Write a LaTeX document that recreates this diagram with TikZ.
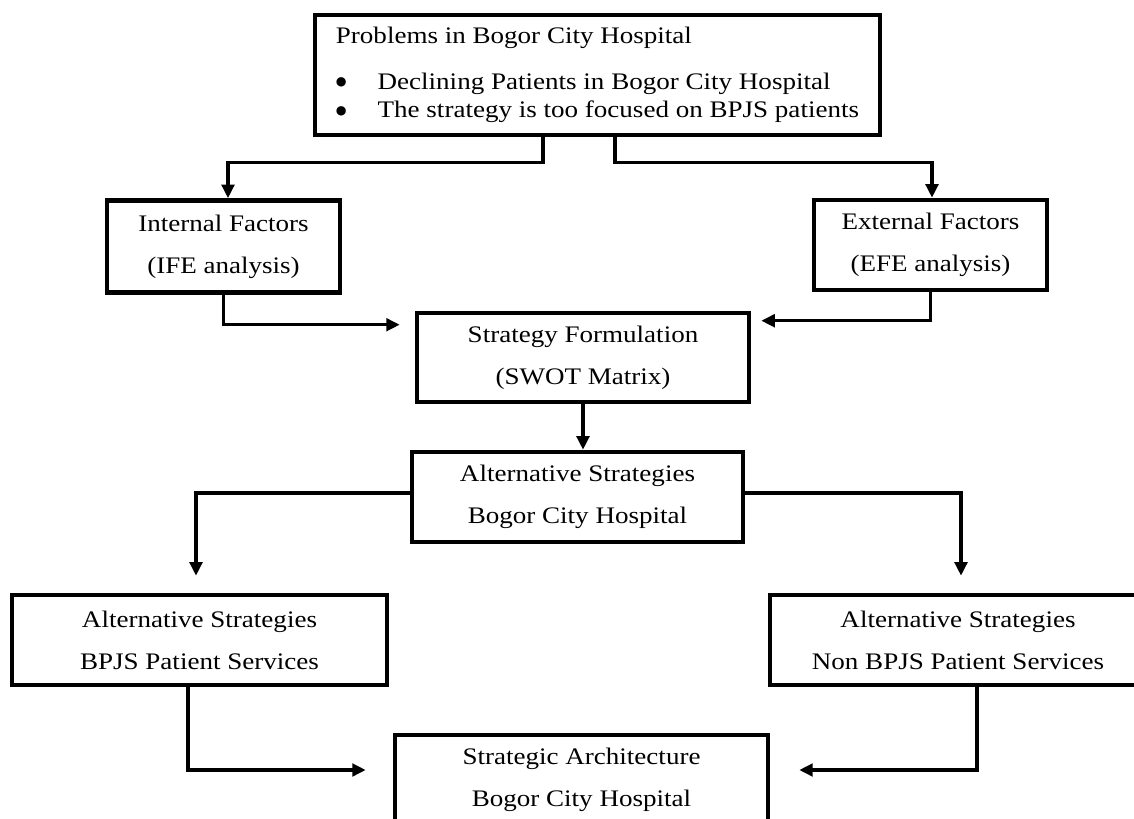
\documentclass[tikz,border=0pt]{standalone}
\usepackage{fontspec}
\setmainfont{Liberation Serif}[FakeStretch=1.14]
\newfontfamily\symfont{DejaVu Sans}
\usetikzlibrary{arrows.meta,calc}

\newcommand{\bigdot}{\raisebox{2pt}{\symfont\fontsize{7}{8}\selectfont ●}}

\begin{document}
\begin{tikzpicture}[
    x=0.02cm, y=-0.02cm,
    box/.style={rectangle, draw, line width=2.6pt, inner sep=0pt, align=center, font=\fontsize{13.5}{24}\selectfont},
    flow/.style={-{Triangle[length=0.27cm, width=0.25cm]}, line width=2pt} % Connector with filled head
]
    \useasboundingbox (0,0) rectangle (1134,819);
    \clip (0,0) rectangle (1134,819);

    % Problem statement at the top
    \node[box, minimum width=11.3cm, minimum height=2.4cm, font=\fontsize{13.5}{16}\selectfont] (prob) at (597.5,75)
        {\begin{tabular}{@{}l@{\hspace{0.62cm}}l@{}}
            \multicolumn{2}{@{}l@{}}{Problems in Bogor City Hospital}\\[10pt]
            \bigdot & Declining Patients in Bogor City Hospital\\
            \bigdot & The strategy is too focused on BPJS patients
        \end{tabular}};

    % Internal and external analysis
    \node[box, minimum width=4.66cm, minimum height=1.84cm] (intf) at (223.5,246.5) {Internal Factors\\(IFE analysis)};
    \node[box, minimum width=4.66cm, minimum height=1.8cm] (extf) at (930.5,245) {External Factors\\(EFE analysis)};

    % Formulation and alternatives
    \node[box, minimum width=6.64cm, minimum height=1.78cm] (swot) at (583,357.5) {Strategy Formulation\\(SWOT Matrix)};
    \node[box, minimum width=6.62cm, minimum height=1.8cm] (altb) at (577.5,497) {Alternative Strategies\\Bogor City Hospital};

    \node[box, minimum width=7.5cm, minimum height=1.8cm] (altbp) at (199.5,640) {Alternative Strategies\\BPJS Patient Services};
    \node[box, minimum width=7.52cm, minimum height=1.8cm] (altnb) at (958,640) {Alternative Strategies\\Non BPJS Patient Services};

    % Final architecture (runs off the bottom edge)
    \node[box, minimum width=7.46cm, minimum height=1.8cm] (arch) at (581.5,780) {Strategic Architecture\\Bogor City Hospital};

    % Problem box splits into the two analyses
    \draw[flow] ($(prob.south)+(-54.5,0)$) -- ++(0,25) -| ($(intf.north)+(4.5,0)$);
    \draw[flow] ($(prob.south)+(17.5,0)$) -- ++(0,25) -| ($(extf.north)+(1.5,0)$);

    % Analyses feed the formulation
    \draw[flow] (intf.south) |- ($(swot.north west)+(-15,14)$);
    \draw[flow] (extf.south) |- ($(swot.north east)+(10,10)$);

    \draw[flow] (swot.south) -- (swot.south |- altb.north);

    % Alternatives split
    \draw[flow] ($(altb.west)+(0,-4)$) -| ($(altbp.north)+(-3.5,-17)$);
    \draw[flow] ($(altb.east)+(0,-4)$) -| ($(altnb.north)+(3,-17)$);

    % Both lead to the architecture
    \draw[flow] ($(altbp.south)+(-11.5,0)$) |- ($(arch.west)+(-27,-10)$);
    \draw[flow] ($(altnb.south)+(19,0)$) |- ($(arch.east)+(29,-10)$);

\end{tikzpicture}
\end{document}
